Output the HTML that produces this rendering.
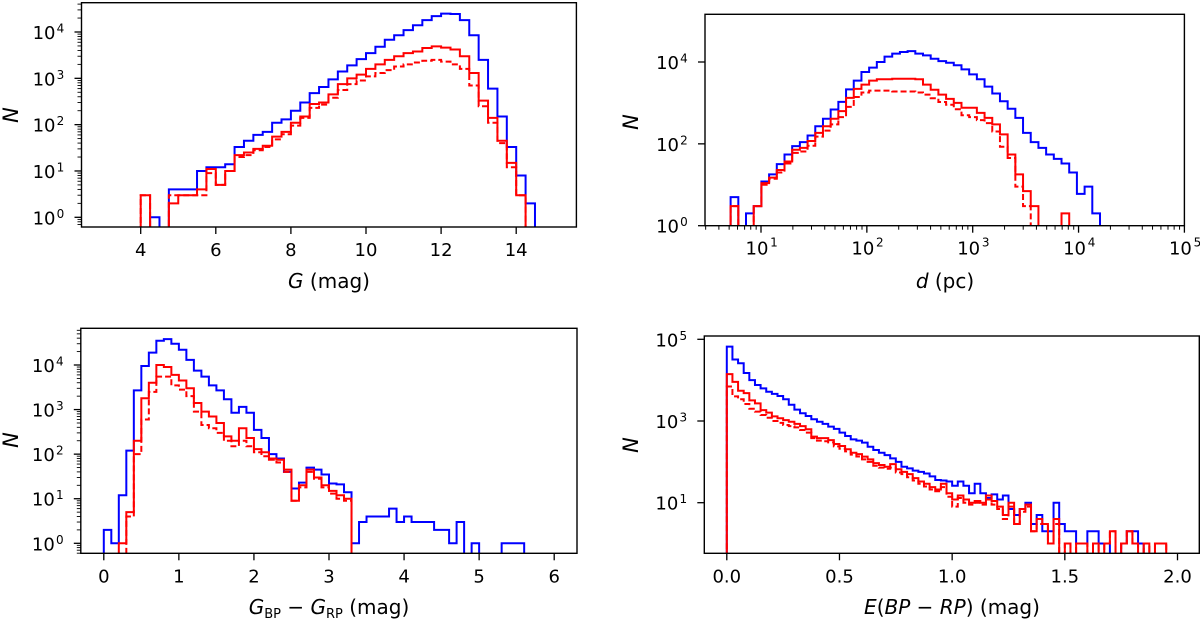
<!DOCTYPE html>
<html><head><meta charset="utf-8">
<style>
html,body{margin:0;padding:0;background:#fff;}
svg{display:block;font-family:"DejaVu Sans","Liberation Sans",sans-serif;}
</style></head>
<body>
<svg id="fig" width="1200" height="622" viewBox="0 0 1200 622" xmlns="http://www.w3.org/2000/svg">
<rect x="0" y="0" width="1200" height="622" fill="#fff"/>
</svg>
<script>
// ---------- Panel 1: G magnitude (bins of 0.25 from 4.0) ----------
const gBinStart = 4.0;
const gBinWidth = 0.25;
const gBlue = [0,1,0,4,4,4,10,12,12,14,33,45,60,70,110,130,200,300,480,650,950,1400,1900,2600,3500,4800,6800,8500,11000,14000,18000,22000,25000,24500,18000,8500,2500,600,150,33,8,2];
const gRed = [3,0,0,2,3,3,4,11,5,10,22,25,30,35,55,70,110,150,280,300,450,750,1000,1200,1600,2000,2500,3000,3500,3800,4500,4900,4600,4200,3000,1300,330,140,45,15,3,0];
const gRedDash = [3,0,0,3,3,3,3,9,5,10,20,22,28,33,48,62,95,140,230,270,380,560,750,900,1100,1300,1500,1800,2000,2200,2400,2500,2300,2000,1600,700,250,110,40,12,3,0];
const gXTicks = [4,6,8,10,12,14];
const gXTickLabels = ["4","6","8","10","12","14"];
const gYTicks = [0,1,2,3,4];

// ---------- Panel 2: distance (log bins, start log10 = 0.713, width 0.0727 dex) ----------
const dBinStartLog = 0.713;
const dBinWidthLog = 0.0727;
const dBlue = [5,0,2,3,12,18,32,55,88,110,160,270,410,690,1060,2140,3500,5700,7300,10000,13500,16000,17500,18500,16000,14500,12000,10500,9600,8300,6600,5000,3800,2500,1700,1100,720,430,185,110,80,55,43,33,20,6,9,2];
const dRed = [3,0,0,3,11,15,23,37,72,80,117,185,270,410,630,1330,2200,2800,3500,3800,3800,3900,3900,3900,3800,2800,2100,1600,1260,1000,760,760,570,430,300,170,55,18,7,3,0,0,0,2,0,0,0,0];
const dRedDash = [3,0,0,3,10,14,20,33,60,65,90,150,210,300,450,800,1400,1800,2000,2000,2000,1900,1900,1900,1800,1600,1300,1050,900,700,500,450,380,320,200,85,45,9,3,0,0,0,0,0,0,0,0,0];
const dXTicks = [1,2,3,4,5];
const dYTicks = [0,2,4];

// ---------- Panel 3: BP-RP colour (bins of 0.1 from 0) ----------
const cBinStart = 0.0;
const cBinWidth = 0.1;
const cBlue = [2,1,12,120,2700,9500,19000,35000,38000,30000,22000,13000,7500,5500,3500,2700,1700,850,1150,850,350,230,100,80,40,17,23,50,45,35,22,21,14,1,3,4,4,4,6,3,4,3,3,3,2,2,1,3,0,1,0,0,0,1,1,1];
const cRed = [0,0,1,5,200,1800,4000,10000,9000,6000,4500,3000,1400,900,700,500,250,200,380,230,130,110,80,75,45,9,20,45,30,20,15,12,10];
const cRedDash = [0,0,0,4,100,600,2500,5500,5500,3500,2800,2000,900,450,380,300,200,150,200,150,110,90,75,65,40,9,18,40,28,18,13,10,9];
const cXTicks = [0,1,2,3,4,5,6];
const cXTickLabels = ["0","1","2","3","4","5","6"];
const cYTicks = [0,1,2,3,4];

// ---------- Panel 4: E(BP-RP) (bins of 0.025 from 0) ----------
const eBinStart = 0.0;
const eBinWidth = 0.025;
const eBlue = [66000,32000,26000,15000,10000,7600,6300,5200,4600,4100,3400,2500,1900,1550,1330,1100,960,850,730,640,520,430,355,330,295,235,195,167,146,122,100,76,69,61,57,52,44,36,35,33,26,33,26,17,29,17,13,16,12,15,7,5,7,10,3,5,2,2,10,3,2,2,1,1,2,2,1,1,0,0,1,2,2,1];
const eRed = [14000,9100,5500,4800,3200,2700,1850,1600,1300,1170,1050,960,850,750,630,415,380,380,340,273,245,204,167,155,134,115,93,84,76,88,66,57,50,40,33,29,24,21,29,17,12,15,12,10,11,10,15,11,8,5,10,3,7,9,2,4,3,1,4,0,1,0,1,1,0,1,0,1,2,0,1,2,1,0,1,0,1,1];
const eRedDash = [7000,4000,3400,2600,2000,1700,1400,1200,1000,900,800,750,700,600,520,380,330,320,300,240,210,180,150,135,115,100,80,72,68,72,55,50,42,35,29,25,21,19,24,14,8,13,10,9,10,9,12,9,7,4,8,3,6,8,2,3,3,1,3,0,1,0,1,1,0,1,0,1,2,0,1,2,1,0,1,0,1,1];
const eXTicks = [0,0.5,1.0,1.5,2.0];
const eXTickLabels = ["0.0","0.5","1.0","1.5","2.0"];
const eYTicks = [1,3,5];

const NS = "http://www.w3.org/2000/svg";
const fig = document.getElementById("fig");
function mk(tag, attrs, parent){
  const e = document.createElementNS(NS, tag);
  for (const k in attrs) e.setAttribute(k, attrs[k]);
  (parent||fig).appendChild(e);
  return e;
}
function linScale(d0,p0,d1,p1){ return v => p0 + (v-d0)*(p1-p0)/(d1-d0); }

function panel(cfg){
  const g = mk("g", {});
  
  
  const [L,T,R,B] = cfg.box;
  const clipId = cfg.name + "-clip";
  const cp = mk("clipPath", {id: clipId}, g);
  mk("rect", {x:L, y:T, width:R-L, height:B-T}, cp);
  const sy = v => v > 0 ? cfg.ys(Math.log10(v)) : B + 50;
  cfg.series.forEach(s => {
    let d = "";
    const n = s.values.length;
    const edge = i => cfg.xs(cfg.start + i*cfg.width);
    d += "M" + edge(0).toFixed(2) + "," + (B+50);
    for (let i=0;i<n;i++){
      const y = sy(s.values[i]).toFixed(2);
      d += " L" + edge(i).toFixed(2) + "," + y + " L" + edge(i+1).toFixed(2) + "," + y;
    }
    d += " L" + edge(n).toFixed(2) + "," + (B+50);
    const p = mk("path", {d:d, fill:"none", stroke:s.color, "stroke-width":2, "clip-path":"url(#"+clipId+")", "stroke-linejoin":"miter"}, g);
    if (s.dash) p.setAttribute("stroke-dasharray", "6,3");
    
    
  });
  const fr = mk("rect", {x:L, y:T, width:R-L, height:B-T, fill:"none", stroke:"#000", "stroke-width":1.4}, g);
  
  
  const xa = mk("g", {}, g);
  
  
  cfg.xTicks.forEach((t,i) => {
    const x = cfg.xs(t);
    mk("line", {x1:x, y1:B, x2:x, y2:B+7, stroke:"#000", "stroke-width":1.3}, xa);
    if (cfg.xLog){
      const tx = mk("text", {x:x-4, y:B+29, "font-size":18, "text-anchor":"middle", fill:"#000"}, xa);
      tx.textContent = "10";
      const sp = mk("text", {x:x+13, y:B+21, "font-size":12, "text-anchor":"middle", fill:"#000"}, xa);
      sp.textContent = String(t);
    } else {
      const tx = mk("text", {x:x, y:B+29, "font-size":18, "text-anchor":"middle", fill:"#000"}, xa);
      tx.textContent = cfg.xLabels[i];
    }
  });
  if (cfg.xLog){
    for (let dec = 0; dec < 5; dec++){
      for (let m=2;m<=9;m++){
        const x = cfg.xs(dec + Math.log10(m));
        if (x < L-0.5 || x > R+0.5) continue;
        mk("line", {x1:x, y1:B, x2:x, y2:B+4, stroke:"#000", "stroke-width":1}, xa);
      }
    }
  }
  const ya = mk("g", {}, g);
  
  
  cfg.yTicks.forEach(t => {
    const y = cfg.ys(t);
    mk("line", {x1:L-7, y1:y, x2:L, y2:y, stroke:"#000", "stroke-width":1.3}, ya);
    const tx = mk("text", {x:L-26, y:y+7, "font-size":18, "text-anchor":"end", fill:"#000"}, ya);
    tx.textContent = "10";
    const sp = mk("text", {x:L-21, y:y+0.5, "font-size":12, "text-anchor":"middle", fill:"#000"}, ya);
    sp.textContent = String(t);
  });
  if (cfg.yMinor){
    for (let dec=-1; dec<5; dec++){
      for (let m=2;m<=9;m++){
        const y = cfg.ys(dec + Math.log10(m));
        if (y < T-0.5 || y > B+0.5) continue;
        mk("line", {x1:L-4, y1:y, x2:L, y2:y, stroke:"#000", "stroke-width":0.9}, ya);
      }
    }
  }
  const xl = mk("text", {x:cfg.xLabelPos[0], y:cfg.xLabelPos[1], "font-size":20, "text-anchor":"middle", fill:"#000"}, g);
  xl.innerHTML = cfg.xLabel;
  
  
  const yl = mk("text", {x:0, y:0, "font-size":21, "font-style":"italic", "text-anchor":"middle", fill:"#000", transform:"translate("+cfg.yLabelPos[0]+","+cfg.yLabelPos[1]+") rotate(-90)"}, g);
  yl.textContent = "N";
  
  
}

panel({
  name:"g-mag-panel", box:[81.5,2.7,576.4,227],
  xs: linScale(4,140.7,14,516.2), ys: linScale(0,217.3,4,32),
  start:gBinStart, width:gBinWidth,
  series:[{name:"g-all-blue",values:gBlue,color:"#0000ff"},{name:"g-red-solid",values:gRed,color:"#ff0000"},{name:"g-red-dashed",values:gRedDash,color:"#ff0000",dash:true}],
  xTicks:gXTicks, xLabels:gXTickLabels, yTicks:gYTicks, yMinor:true,
  xLabel:'<tspan font-style="italic">G</tspan> (mag)', xLabelPos:[329,288], yLabelPos:[18,115]
});
panel({
  name:"distance-panel", box:[705,14.3,1184.4,225.7],
  xs: linScale(1,761,5,1184.4), ys: linScale(0,225.7,4,62),
  xLog:true,
  start:dBinStartLog, width:dBinWidthLog,
  series:[{name:"d-all-blue",values:dBlue,color:"#0000ff"},{name:"d-red-solid",values:dRed,color:"#ff0000"},{name:"d-red-dashed",values:dRedDash,color:"#ff0000",dash:true}],
  xTicks:dXTicks, yTicks:dYTicks, yMinor:false,
  xLabel:'<tspan font-style="italic">d</tspan> (pc)', xLabelPos:[945,288], yLabelPos:[638,122]
});
panel({
  name:"colour-panel", box:[80.8,328.3,577,553.3],
  xs: linScale(0,103.8,6,554.2), ys: linScale(0,543.3,4,365),
  start:cBinStart, width:cBinWidth,
  series:[{name:"c-all-blue",values:cBlue,color:"#0000ff"},{name:"c-red-solid",values:cRed,color:"#ff0000"},{name:"c-red-dashed",values:cRedDash,color:"#ff0000",dash:true}],
  xTicks:cXTicks, xLabels:cXTickLabels, yTicks:cYTicks, yMinor:true,
  xLabel:'<tspan font-style="italic">G</tspan><tspan font-size="13" dy="4">BP</tspan><tspan dy="-4"> − </tspan><tspan font-style="italic">G</tspan><tspan font-size="13" dy="4">RP</tspan><tspan dy="-4"> (mag)</tspan>', xLabelPos:[329,614], yLabelPos:[18,440]
});
panel({
  name:"reddening-panel", box:[704.3,336,1199.3,553.3],
  xs: linScale(0,726.8,2,1177.5), ys: linScale(1,502.7,5,339.3),
  start:eBinStart, width:eBinWidth,
  series:[{name:"e-all-blue",values:eBlue,color:"#0000ff"},{name:"e-red-solid",values:eRed,color:"#ff0000"},{name:"e-red-dashed",values:eRedDash,color:"#ff0000",dash:true}],
  xTicks:eXTicks, xLabels:eXTickLabels, yTicks:eYTicks, yMinor:false,
  xLabel:'<tspan font-style="italic">E</tspan>(<tspan font-style="italic">BP</tspan> − <tspan font-style="italic">RP</tspan>) (mag)', xLabelPos:[952,614], yLabelPos:[638,445]
});
</script>
</body></html>
